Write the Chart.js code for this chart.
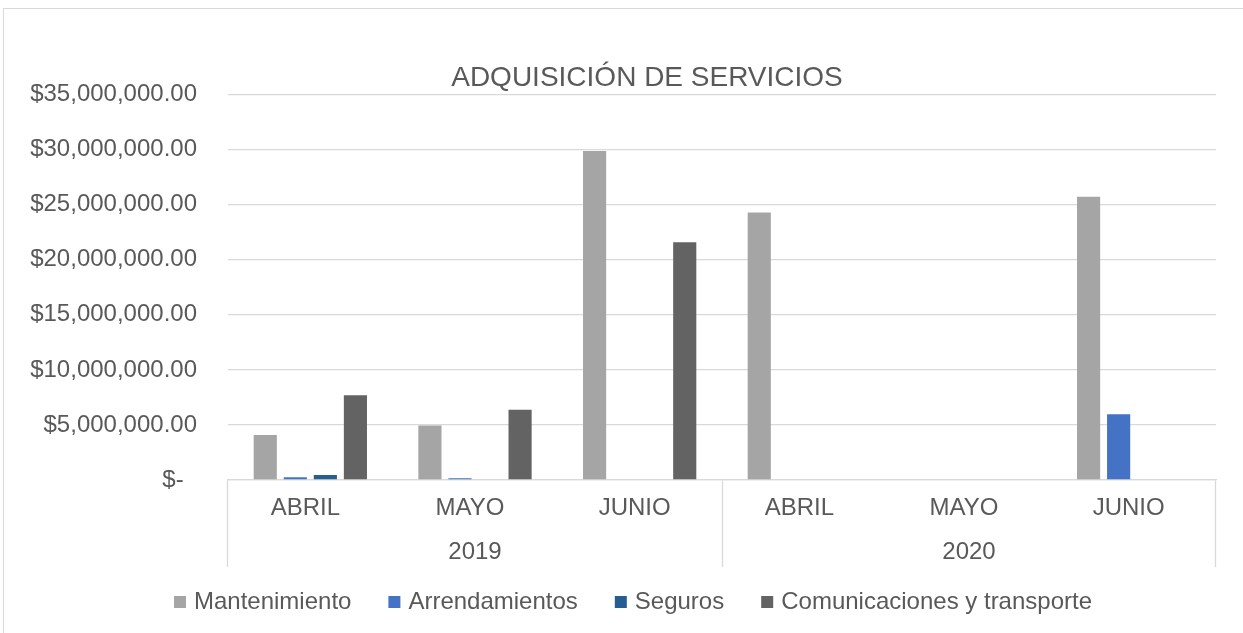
<!DOCTYPE html>
<html>
<head>
<meta charset="utf-8">
<script src="https://cdn.jsdelivr.net/npm/chart.js@4.4.1/dist/chart.umd.min.js"></script>
<style>
  html, body { margin: 0; padding: 0; background: #fff; overflow: hidden; }
  #frame { position: absolute; left: 3px; top: 8px; width: 1300px; height: 700px; border: 1px solid #d9d9d9; }
  #chart { position: absolute; left: 0; top: 0; }
</style>
</head>
<body>
<div id="frame"></div>
<canvas id="chart" width="1243" height="633"></canvas>
<script>
// datos
const meses = ['ABRIL', 'MAYO', 'JUNIO', 'ABRIL', 'MAYO', 'JUNIO'];
const anios = ['2019', '2020'];
const mantenimiento = [4090000, 4940000, 29880000, 24300000, 0, 25730000];
const arrendamientos = [250000, 150000, 0, 0, 0, 5970000];
const seguros = [450000, 0, 0, 0, 0, 0];
const comunicaciones = [7700000, 6390000, 21600000, 0, 0, 0];

const TEXTO = '#595959';
const GRIS = '#d9d9d9';
Chart.defaults.font.family = "'Liberation Sans', Arial, sans-serif";

const moneda = new Intl.NumberFormat('en-US', { minimumFractionDigits: 2, maximumFractionDigits: 2 });

// en Excel el titulo y la leyenda no quedan centrados en el lienzo
const ajustarCajas = {
    id: 'ajustarCajas',
    afterLayout(chart) {
        const t = chart.titleBlock;
        const l = chart.legend;
        if (t) { t.left += 25; t.right += 25; }
        if (l) { l.left += 13; l.right += 13; }
    }
};

new Chart(document.getElementById('chart').getContext('2d'), {
    type: 'bar',
    data: {
        labels: meses,
        datasets: [
            { label: 'Mantenimiento', data: mantenimiento, backgroundColor: '#a5a5a5' },
            { label: 'Arrendamientos', data: arrendamientos, backgroundColor: '#4472c4' },
            { label: 'Seguros', data: seguros, backgroundColor: '#255e91' },
            { label: 'Comunicaciones y transporte', data: comunicaciones, backgroundColor: '#636363' }
        ]
    },
    options: {
        responsive: false,
        animation: false,
        datasets: { bar: { categoryPercentage: 0.73, barPercentage: 0.77, borderWidth: 0, xAxisID: 'x' } },
        layout: { padding: { left: 28, right: 27, top: 61, bottom: 9 } },
        scales: {
            x: {
                type: 'category',
                position: 'bottom',
                weight: 0,
                offset: true,
                grid: {
                    display: true,
                    offset: true,
                    drawOnChartArea: false,
                    drawTicks: true,
                    tickLength: 87,
                    tickWidth: 1.3,
                    // solo separa los grupos de año
                    tickColor: (ctx) => (ctx.index === undefined || ctx.index % 3 === 0) ? GRIS : 'rgba(0,0,0,0)'
                },
                border: { display: true, color: GRIS, width: 1.3 },
                ticks: { color: TEXTO, font: { size: 24 }, padding: -73.4, labelOffset: -5, maxRotation: 0, autoSkip: false },
                afterFit: (s) => { s.height = 42; }
            },
            x2: {
                type: 'category',
                labels: anios,
                position: 'bottom',
                weight: 1,
                offset: true,
                grid: { display: false, drawTicks: false },
                border: { display: false },
                ticks: { color: TEXTO, font: { size: 24 }, mirror: true, padding: -44.4, maxRotation: 0 },
                afterFit: (s) => { s.height = 27; }
            },
            y: {
                min: 0,
                max: 35000000,
                grid: { color: GRIS, lineWidth: 1.3, drawTicks: false },
                border: { display: false },
                ticks: {
                    stepSize: 5000000,
                    color: TEXTO,
                    font: { size: 24 },
                    padding: 31,
                    callback: (v) => v === 0 ? '$-  ' : '$' + moneda.format(v)
                },
                afterFit: (s) => { s.width = 200; }
            }
        },
        plugins: {
            title: {
                display: true,
                text: 'ADQUISICIÓN DE SERVICIOS',
                color: TEXTO,
                font: { size: 28, weight: 'normal' },
                padding: 0
            },
            legend: {
                position: 'bottom',
                labels: {
                    usePointStyle: true,
                    pointStyle: 'rect',
                    boxWidth: 4,
                    boxHeight: 12,
                    padding: 41,
                    color: TEXTO,
                    font: { size: 24 }
                }
            },
            tooltip: { enabled: false }
        }
    },
    plugins: [ajustarCajas]
});
</script>
</body>
</html>
